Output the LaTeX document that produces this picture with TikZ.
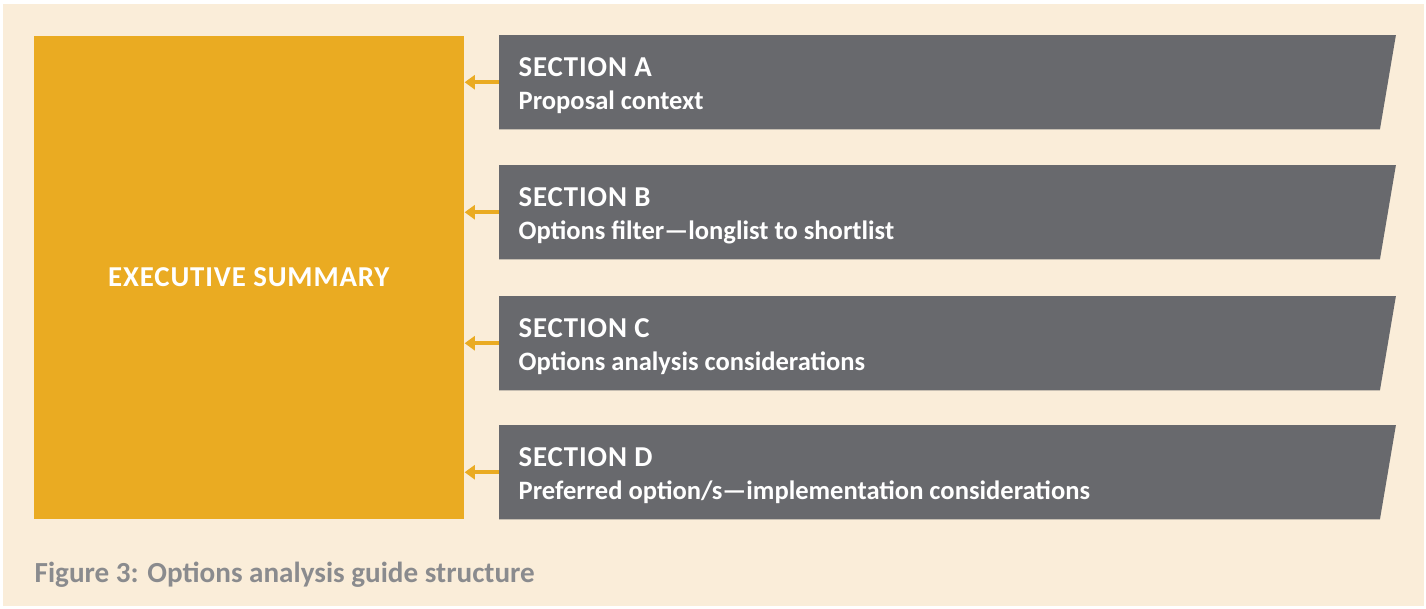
\documentclass[tikz,border=0pt]{standalone}
\usepackage{fontspec}
\setmainfont{Carlito}
\usetikzlibrary{arrows.meta,calc}

\definecolor{paper}{RGB}{250,237,217}
\definecolor{sumyellow}{RGB}{234,171,34}
\definecolor{secgray}{RGB}{104,105,109}
\definecolor{capgray}{RGB}{138,139,142}

\tikzset{
    secbox/.style={rectangle, inner sep=0pt, minimum width=8.95cm, minimum height=0.93cm, anchor=north west},
    sectitle/.style={anchor=base west, inner sep=0pt, text=white, font=\fontsize{8.2}{9}\selectfont\bfseries\addfontfeature{LetterSpace=3}},
    secdesc/.style={anchor=base west, inner sep=0pt, text=white, font=\fontsize{7.55}{9}\selectfont\bfseries},
    feed/.style={-{Triangle[length=2.9pt, width=4pt]}, sumyellow, line width=1pt},
}

\begin{document}
\begin{tikzpicture}[x=0.01cm, y=-0.01cm]
    \useasboundingbox (0,0) rectangle (1426,608);
    \fill[white] (0,0) rectangle (1426,608);
    \fill[paper] (3,4) rectangle (1424,606);

    % summary block on the left
    \node[fill=sumyellow, minimum width=4.30cm, minimum height=4.83cm, inner sep=0pt, anchor=north west,
          text=white, font=\fontsize{8.2}{9}\selectfont\bfseries\addfontfeature{LetterSpace=3}] (exec) at (33,35) {EXECUTIVE SUMMARY};

    % the four sections, each feeding the summary
    \foreach \id/\y/\title/\desc in {A/35/SECTION A/Proposal context,
                                     B/165/SECTION B/Options filter—longlist to shortlist,
                                     C/296/SECTION C/Options analysis considerations,
                                     D/425/SECTION D/{Preferred option/s—implementation considerations}} {
        \node[secbox] (sec\id) at (499,\y) {};
        \fill[secgray] (sec\id.north west) -- (sec\id.north east) -- ($(sec\id.south east)+(-16,0)$) -- (sec\id.south west) -- cycle;
        \node[sectitle] (title\id) at ($(sec\id.north west)+(19,41)$) {\title};
        \node[secdesc] (desc\id) at ($(sec\id.north west)+(19,74)$) {\desc};
        \draw[feed] (sec\id.west) -- (sec\id.west -| exec.east);
    }

    % caption
    \node[anchor=base west, inner sep=0pt, text=capgray, font=\fontsize{8.28}{9}\selectfont\bfseries] (caption) at (34,582)
        {Figure 3: Options analysis guide structure};
\end{tikzpicture}
\end{document}
